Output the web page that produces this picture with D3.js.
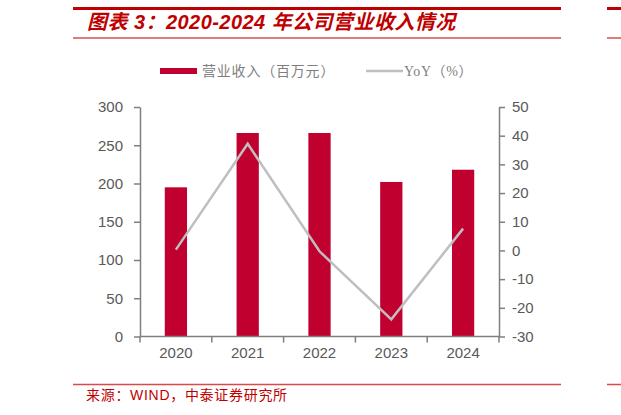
<!DOCTYPE html>
<html>
<head>
<meta charset="utf-8">
<script src="https://cdn.jsdelivr.net/npm/d3@7"></script>
<style>
  body { margin: 0; background: #fff; }
  svg { display: block; }
</style>
</head>
<body>
<script>
'use strict'
const years = ["2020", "2021", "2022", "2023", "2024"];
const revenue = [195, 266, 266, 202, 218];
const yoy = [0.3, 37.2, -0.3, -24.0, 7.6];
const leftTicks = [0, 50, 100, 150, 200, 250, 300];
const rightTicks = [-30, -20, -10, 0, 10, 20, 30, 40, 50];
const titleText = "图表 3：2020-2024 年公司营业收入情况";
const sourceText = "来源：WIND，中泰证券研究所";
const legendNames = ["营业收入（百万元）", "YoY（%）"];

const width = 621, height = 415;
const plotLeft = 140, plotRight = 499, plotTop = 107, plotBottom = 336.5;
const red = "#c0002f";
const labelColor = "#595959";
const axisColor = "#7f7f7f";

var svg = d3.select("body")
    .append("svg")
    .attr("width", width)
    .attr("height", height);

// header lines and title
svg.append("line").attr("x1", 73).attr("x2", 561).attr("y1", 8.5).attr("y2", 8.5)
    .attr("stroke", "#c00000").attr("stroke-width", 3);
svg.append("line").attr("x1", 607).attr("x2", 621).attr("y1", 8.5).attr("y2", 8.5)
    .attr("stroke", "#c00000").attr("stroke-width", 3);
svg.append("line").attr("x1", 73).attr("x2", 561).attr("y1", 38).attr("y2", 38)
    .attr("stroke", "#e07b7b").attr("stroke-width", 2);
svg.append("line").attr("x1", 607).attr("x2", 621).attr("y1", 38).attr("y2", 38)
    .attr("stroke", "#e07b7b").attr("stroke-width", 2);

svg.append("text")
    .text(titleText)
    .attr("x", 87)
    .attr("y", 29)
    .attr("font-family", "'Liberation Sans', 'Noto Sans CJK SC', sans-serif")
    .attr("font-size", "20px")
    .attr("font-weight", "bold")
    .attr("font-style", "italic")
    .attr("letter-spacing", "0.45px")
    .attr("fill", "#c00000");

// legend
svg.append("rect").attr("x", 160).attr("y", 68).attr("width", 37).attr("height", 6).attr("fill", red);
svg.append("text").text(legendNames[0])
    .attr("x", 202).attr("y", 76)
    .attr("font-family", "'Noto Sans CJK SC', sans-serif")
    .attr("font-size", "14px").attr("letter-spacing", "0.8px")
    .attr("fill", "#7f7f7f");
svg.append("line").attr("x1", 366).attr("x2", 403).attr("y1", 71).attr("y2", 71)
    .attr("stroke", "#bfbfbf").attr("stroke-width", 2.5);
svg.append("text").text(legendNames[1])
    .attr("x", 404).attr("y", 76)
    .attr("font-family", "'Liberation Serif', 'Noto Sans CJK SC', serif")
    .attr("font-size", "14px").attr("letter-spacing", "0.6px")
    .attr("fill", "#7f7f7f");

// scales
var x = d3.scaleBand().domain(years).range([plotLeft, plotRight]).padding(0);
var yL = d3.scaleLinear().domain([0, 300]).range([plotBottom, plotTop]);
var yR = d3.scaleLinear().domain([-30, 50]).range([plotBottom, plotTop]);
const barW = x.bandwidth() * 0.31;

// bars
svg.selectAll("rect.bar")
    .data(revenue)
    .enter()
    .append("rect")
    .attr("class", "bar")
    .attr("x", function(d, i) { return x(years[i]) + (x.bandwidth() - barW) / 2; })
    .attr("y", function(d) { return yL(d); })
    .attr("width", barW)
    .attr("height", function(d) { return plotBottom - yL(d); })
    .attr("fill", red);

// axes
function styleAxis(g) {
    g.selectAll("path, line").attr("stroke", axisColor).attr("stroke-width", 1.5);
    g.selectAll("text")
        .attr("fill", labelColor)
        .attr("font-family", "'Liberation Sans', Arial, sans-serif")
        .attr("font-size", "15px");
}
const plain = function(d) { return String(d); };

svg.append("g")
    .attr("transform", "translate(" + plotLeft + ",0)")
    .call(d3.axisLeft(yL).tickValues(leftTicks).tickFormat(plain)
        .tickSize(6).tickSizeOuter(0).tickPadding(11))
    .call(styleAxis);

svg.append("g")
    .attr("transform", "translate(" + plotRight + ",0)")
    .call(d3.axisRight(yR).tickValues(rightTicks).tickFormat(plain)
        .tickSize(6).tickSizeOuter(0).tickPadding(7))
    .call(styleAxis);

var xAxis = svg.append("g")
    .attr("transform", "translate(0," + plotBottom + ")")
    .call(d3.axisBottom(x).tickSize(0).tickPadding(11))
    .call(styleAxis);
xAxis.select(".domain").attr("d", "M" + plotLeft + ",0H" + plotRight);

// tick marks between categories
var bounds = years.map(function(d) { return x(d); }).concat([plotRight]);
svg.append("g")
    .selectAll("line")
    .data(bounds)
    .enter()
    .append("line")
    .attr("x1", function(d) { return d; })
    .attr("x2", function(d) { return d; })
    .attr("y1", plotBottom)
    .attr("y2", plotBottom + 6)
    .attr("stroke", axisColor)
    .attr("stroke-width", 1.5);

// yoy line
var line = d3.line()
    .x(function(d, i) { return x(years[i]) + x.bandwidth() / 2; })
    .y(function(d) { return yR(d); });
svg.append("path")
    .datum(yoy)
    .attr("d", line)
    .attr("fill", "none")
    .attr("stroke", "#bfbfbf")
    .attr("stroke-width", 2.5);

// footer
svg.append("line").attr("x1", 73).attr("x2", 561).attr("y1", 384.5).attr("y2", 384.5)
    .attr("stroke", "#e04848").attr("stroke-width", 1.5);
svg.append("line").attr("x1", 607).attr("x2", 621).attr("y1", 384.5).attr("y2", 384.5)
    .attr("stroke", "#e04848").attr("stroke-width", 1.5);
svg.append("text").text(sourceText)
    .attr("x", 86).attr("y", 400)
    .attr("font-family", "'Liberation Sans', 'Noto Sans CJK SC', sans-serif")
    .attr("font-size", "14px").attr("letter-spacing", "0.7px")
    .attr("fill", "#c00000");
</script>
</body>
</html>
